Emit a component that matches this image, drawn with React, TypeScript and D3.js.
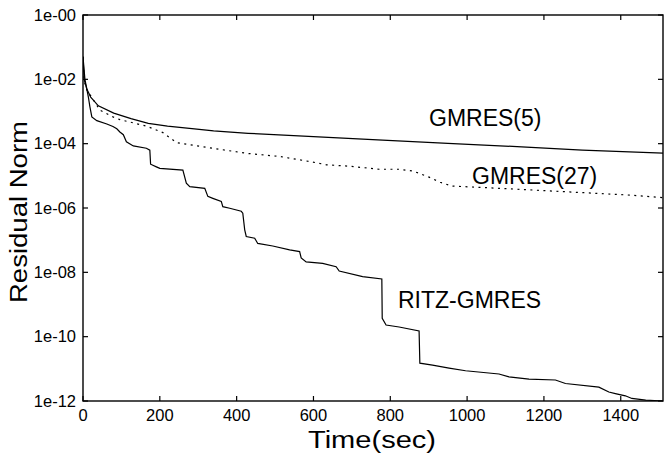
import React from 'react';
import * as d3 from 'd3';

// time (sec) and residual norm
const gmres5Time = [0, 3, 10, 20, 40, 80, 125, 170, 220, 290, 340, 430, 600, 780, 950, 1130, 1300, 1510];
const gmres5Res = [5.0e-2, 1.0e-2, 5.0e-3, 2.8e-3, 1.5e-3, 8.9e-4, 6.0e-4, 4.3e-4, 3.5e-4, 2.9e-4, 2.5e-4, 2.1e-4, 1.66e-4, 1.29e-4, 1.02e-4, 8.1e-5, 6.3e-5, 5.1e-5];

const gmres27Time = [0, 3, 10, 27, 44, 78, 96, 122, 166, 208, 244, 260, 338, 426, 512, 597, 634, 693, 771, 823, 860, 901, 930, 961, 1083, 1257, 1428, 1510];
const gmres27Res = [5.0e-2, 8.9e-3, 4.7e-3, 2.3e-3, 1.1e-3, 6.8e-4, 5.6e-4, 4.7e-4, 3.5e-4, 2.2e-4, 1.07e-4, 1.0e-4, 7.2e-5, 5.0e-5, 4.0e-5, 2.7e-5, 2.2e-5, 2.0e-5, 1.6e-5, 1.6e-5, 1.4e-5, 9.1e-6, 6.3e-6, 4.8e-6, 4.1e-6, 3.2e-6, 2.5e-6, 2.1e-6];

const ritzTime = [0, 5, 14, 18, 23, 36, 62, 78, 88, 96, 105, 113, 131, 165, 174, 176, 191, 200, 260, 269, 278, 317, 325, 338, 360, 364, 382, 412, 416, 421, 425, 447, 455, 494, 538, 564, 568, 581, 624, 659, 667, 728, 778, 779, 789, 823, 875, 877, 910, 953, 996, 1083, 1109, 1161, 1230, 1256, 1343, 1369, 1386, 1412, 1429, 1465, 1510];
const ritzRes = [5.0e-2, 1.0e-2, 2.8e-3, 1.4e-3, 6.8e-4, 5.2e-4, 4.1e-4, 3.4e-4, 2.9e-4, 2.3e-4, 1.9e-4, 1.15e-4, 8.5e-5, 7.2e-5, 6.3e-5, 2.3e-5, 1.9e-5, 1.7e-5, 1.5e-5, 5.9e-6, 4.6e-6, 4.1e-6, 2.3e-6, 2.0e-6, 1.6e-6, 1.1e-6, 9.8e-7, 7.9e-7, 6.9e-7, 2.1e-7, 1.3e-7, 1.15e-7, 7.9e-8, 6.6e-8, 5.0e-8, 4.4e-8, 2.8e-8, 2.1e-8, 1.9e-8, 1.5e-8, 1.1e-8, 7.4e-9, 6.2e-9, 3.7e-10, 2.3e-10, 2.0e-10, 1.5e-10, 1.5e-11, 1.3e-11, 1.05e-11, 8.7e-12, 6.9e-12, 5.6e-12, 4.8e-12, 4.5e-12, 3.5e-12, 2.7e-12, 1.9e-12, 1.7e-12, 1.45e-12, 1.2e-12, 1.07e-12, 1.0e-12];

const xTicks = [0, 200, 400, 600, 800, 1000, 1200, 1400];
const yTicks = [1, 1e-2, 1e-4, 1e-6, 1e-8, 1e-10, 1e-12];

const width = 666;
const height = 461;
const margin = {top: 15, right: 3, bottom: 60, left: 83};
const font = '"Liberation Sans", Arial, Helvetica, sans-serif';

const zip = (t: number[], r: number[]) => t.map((d, i) => [d, r[i]] as [number, number]);

export default function App() {
    const x = d3.scaleLinear().domain([0, 1510]).range([margin.left, width - margin.right]);
    const y = d3.scaleLog().domain([1e-12, 1]).range([height - margin.bottom, margin.top]);
    const line = d3.line<[number, number]>().x((d) => x(d[0])).y((d) => y(d[1]));

    const x0 = x.range()[0];
    const x1 = x.range()[1];
    const y0 = y.range()[0];
    const y1 = y.range()[1];
    const tick = 5;

    const yLabel = (v: number) => {
        const e = Math.round(-Math.log10(v));
        return '1e-' + String(e).padStart(2, '0');
    };

    return (
        <svg width={width} height={height} style={{position: 'absolute', left: 0, top: 0, background: '#fff'}}>
            <defs>
                <clipPath id='plot'>
                    <rect x={x0} y={y1} width={x1 - x0} height={y0 - y1} />
                </clipPath>
            </defs>
            <g clipPath='url(#plot)' fill='none' stroke='#000' strokeWidth={1.2}>
                <path d={line(zip(gmres5Time, gmres5Res)) || ''} />
                <path d={line(zip(gmres27Time, gmres27Res)) || ''} strokeDasharray='2,4.5' />
                <path d={line(zip(ritzTime, ritzRes)) || ''} />
            </g>
            <rect x={x0} y={y1} width={x1 - x0} height={y0 - y1} fill='none' stroke='#000' strokeWidth={1.4} />
            <g stroke='#000' strokeWidth={1.2}>
                {xTicks.map((t) => (
                    <g key={'xt' + t}>
                        <line x1={x(t)} x2={x(t)} y1={y0} y2={y0 - tick} />
                        <line x1={x(t)} x2={x(t)} y1={y1} y2={y1 + tick} />
                    </g>
                ))}
                {yTicks.map((v) => (
                    <g key={'yt' + v}>
                        <line x1={x0} x2={x0 + tick} y1={y(v)} y2={y(v)} />
                        <line x1={x1} x2={x1 - tick} y1={y(v)} y2={y(v)} />
                    </g>
                ))}
            </g>
            <g fontFamily={font} fontSize={16.5} fill='#000'>
                {xTicks.map((t) => (
                    <text key={'xl' + t} x={x(t)} y={y0 + 20} textAnchor='middle'>{t}</text>
                ))}
                {yTicks.map((v) => (
                    <text key={'yl' + v} x={x0 - 7} y={y(v)} dy='0.35em' textAnchor='end'>{yLabel(v)}</text>
                ))}
            </g>
            <g fontFamily={font} fontSize={23} fill='#000'>
                <text x={372} y={448} textAnchor='middle' textLength={128} lengthAdjust='spacingAndGlyphs'>Time(sec)</text>
                <text transform='translate(27,212) rotate(-90)' textAnchor='middle' textLength={182} lengthAdjust='spacingAndGlyphs'>Residual Norm</text>
            </g>
            <g fontFamily={font} fontSize={23} fill='#000'>
                <text x={429} y={126}>GMRES(5)</text>
                <text x={472} y={184}>GMRES(27)</text>
                <text x={398} y={308}>RITZ-GMRES</text>
            </g>
        </svg>
    );
}
